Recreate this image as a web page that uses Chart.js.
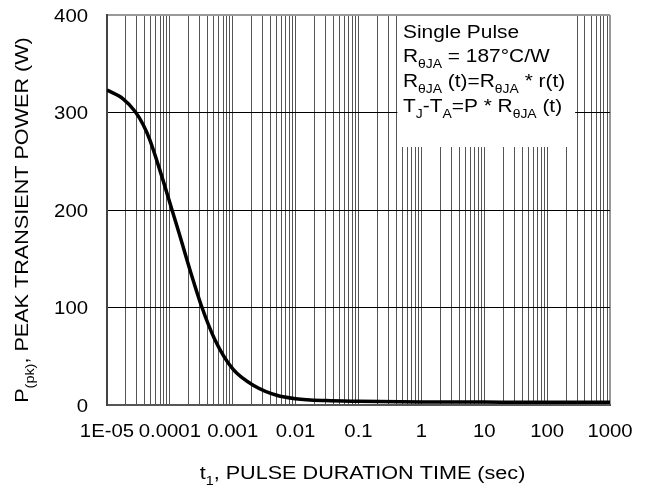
<!DOCTYPE html>
<html>
<head>
<meta charset="utf-8">
<script src="https://cdn.jsdelivr.net/npm/chart.js@4"></script>
<style>
  body { margin: 0; background: #fff; }
  #c { display: block; }
</style>
</head>
<body>
<canvas id="c" width="652" height="487"></canvas>
<script>
// curve
const pulseTime = [1e-5, 1.8e-5, 2.8e-5, 3.8e-5, 4.8e-5, 7.4e-5, 1.07e-4, 1.45e-4, 2.1e-4, 3.2e-4, 5.2e-4,
                   1e-3, 2.3e-3, 5e-3, 1e-2, 3e-2, 0.1, 1, 10, 100, 1000];
const peakPower = [323, 314, 301, 287, 272, 235, 201, 173, 138, 101, 67,
                   37, 19, 10, 6.5, 4.5, 3.8, 3.2, 3, 2.8, 2.7];

const xDecades = [1e-5, 1e-4, 1e-3, 1e-2, 0.1, 1, 10, 100, 1000];
const xTickLabels = ['1E-05', '0.0001', '0.001', '0.01', '0.1', '1', '10', '100', '1000'];
const yTicks = [0, 100, 200, 300, 400];

const xTitle = [['t'], ['1', 'sub'], [', PULSE DURATION TIME (sec)']];
const yTitle = [['P'], ['(pk)', 'sub'], [', PEAK TRANSIENT POWER (W)']];
const noteLines = [
  [['Single Pulse']],
  [['R'], ['\u03B8JA', 'sub'], [' = 187\u00B0C/W']],
  [['R'], ['\u03B8JA', 'sub'], [' (t)=R'], ['\u03B8JA', 'sub'], [' * r(t)']],
  [['T'], ['J', 'sub'], ['-T'], ['A', 'sub'], ['=P * R'], ['\u03B8JA', 'sub'], [' (t)']]
];

// all gridline positions 1..9 per decade
const xGrid = [];
for (let i = 0; i < xDecades.length - 1; i++) {
  for (let m = 1; m <= 9; m++) xGrid.push(m * xDecades[i]);
}
xGrid.push(xDecades[xDecades.length - 1]);

const FONT = '"Liberation Sans", Arial, sans-serif';

function drawRich(ctx, x, y, segs, size, align, sx) {
  const sub = Math.round(size * 0.65);
  ctx.save();
  ctx.translate(x, y);
  ctx.scale(sx, 1);
  let w = 0;
  segs.forEach(s => {
    ctx.font = (s[1] ? sub : size) + 'px ' + FONT;
    w += ctx.measureText(s[0]).width;
  });
  let cx = align === 'center' ? -w / 2 : align === 'right' ? -w : 0;
  ctx.fillStyle = '#000';
  ctx.textBaseline = 'alphabetic';
  ctx.textAlign = 'left';
  segs.forEach(s => {
    ctx.font = (s[1] ? sub : size) + 'px ' + FONT;
    ctx.fillText(s[0], cx, s[1] ? size * 0.33 : 0);
    cx += ctx.measureText(s[0]).width;
  });
  ctx.restore();
}

const textPlugin = {
  id: 'texts',
  afterDraw(chart) {
    const ctx = chart.ctx;
    const xs = chart.scales.x, ys = chart.scales.y;
    const area = chart.chartArea;

    // tick labels
    xDecades.forEach((v, i) => {
      drawRich(ctx, xs.getPixelForValue(v), 437, [[xTickLabels[i]]], 18, 'center', 1.13);
    });
    yTicks.forEach(v => {
      drawRich(ctx, 88, ys.getPixelForValue(v) + 6.5, [[String(v)]], 18, 'right', 1.13);
    });

    // axis titles
    drawRich(ctx, (area.left + area.right) / 2 + 4, 479, xTitle, 18, 'center', 1.2);
    ctx.save();
    ctx.translate(28, 220);
    ctx.rotate(-Math.PI / 2);
    drawRich(ctx, 0, 0, yTitle, 18, 'center', 1.2);
    ctx.restore();

    // note box
    const bl = xs.getPixelForValue(0.4) + 1;
    const br = xs.getPixelForValue(300) - 2;
    ctx.fillStyle = '#fff';
    ctx.fillRect(bl, area.top + 1, br - bl, 147 - area.top - 1);
    const base = [38, 62, 87, 112];
    noteLines.forEach((segs, i) => {
      drawRich(ctx, 403, base[i], segs, 18, 'left', 1.16);
    });
  }
};

new Chart(document.getElementById('c'), {
  type: 'line',
  data: {
    datasets: [{
      data: pulseTime.map((t, i) => ({ x: t, y: peakPower[i] })),
      borderColor: '#000',
      borderWidth: 3.5,
      pointRadius: 0,
      cubicInterpolationMode: 'monotone',
      fill: false
    }]
  },
  options: {
    responsive: false,
    devicePixelRatio: 1,
    animation: false,
    layout: { padding: { top: 15, right: 42, left: 0, bottom: 0 } },
    plugins: { legend: { display: false }, tooltip: { enabled: false } },
    scales: {
      x: {
        type: 'logarithmic',
        min: 1e-5,
        max: 1000,
        afterBuildTicks: s => { s.ticks = xGrid.map(v => ({ value: v })); },
        afterFit: s => { s.height = 82; },
        ticks: { display: false, autoSkip: false },
        grid: {
          drawTicks: false,
          color: c => (c.tick && c.tick.value === 1000 ? '#999' : '#555'),
          lineWidth: c => (c.tick && c.tick.value === 1000 ? 2 : 1)
        },
        border: { color: '#555', width: 2 }
      },
      y: {
        min: 0,
        max: 400,
        afterBuildTicks: s => { s.ticks = yTicks.map(v => ({ value: v })); },
        afterFit: s => { s.width = 107; },
        ticks: { display: false },
        grid: {
          drawTicks: false,
          color: c => (c.tick && c.tick.value === 400 ? '#999' : '#000'),
          lineWidth: c => (c.tick && c.tick.value === 400 ? 2 : 1)
        },
        border: { color: '#444', width: 2 }
      }
    }
  },
  plugins: [textPlugin]
});
</script>
</body>
</html>
